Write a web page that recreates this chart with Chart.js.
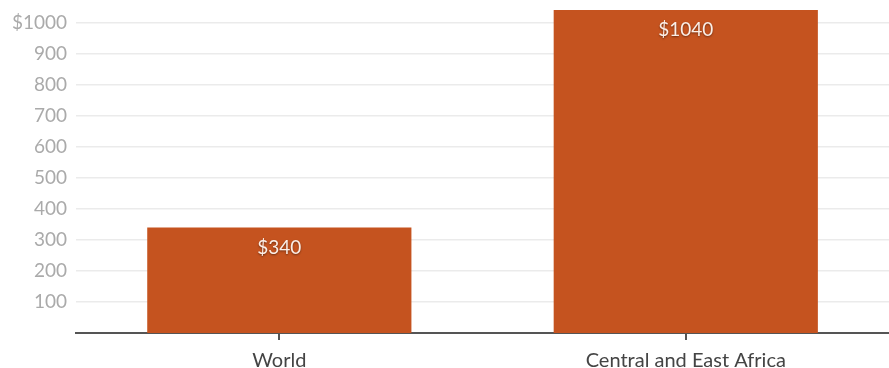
<!DOCTYPE html>
<html>
<head>
<meta charset="utf-8">
<script src="https://cdn.jsdelivr.net/npm/chart.js@4/dist/chart.umd.min.js"></script>
<style>
	html, body { margin: 0; padding: 0; background: #fff; }
	.chart-container { position: relative; width: 889px; height: 368px; }
</style>
</head>
<body>
<div class="chart-container">
	<canvas id="barChart"></canvas>
</div>
<script>
var categories = ['World', 'Central and East Africa'];
var values = [340, 1040];
var valueLabels = ['$340', '$1040'];
var yTicks = [100, 200, 300, 400, 500, 600, 700, 800, 900, 1000];

// white labels just under the top of each bar
var barLabels = {
	id: 'barLabels',
	afterDatasetsDraw: function (chart) {
		var ctx = chart.ctx;
		var meta = chart.getDatasetMeta(0);
		ctx.save();
		ctx.font = '19px Lato';
		ctx.fillStyle = '#fbeee6';
		ctx.textAlign = 'center';
		ctx.textBaseline = 'middle';
		ctx.shadowColor = 'rgba(0,0,0,0.45)';
		ctx.shadowBlur = 2;
		ctx.shadowOffsetY = 1;
		meta.data.forEach(function (bar, i) {
			ctx.fillText(valueLabels[i], bar.x, bar.y + 20);
		});
		ctx.restore();
	},
};

var ctx = document.getElementById('barChart');
var myBarChart = new Chart(ctx, {
	type: 'bar',
	data: {
		labels: categories,
		datasets: [
			{
				data: values,
				backgroundColor: '#c5531f',
				barPercentage: 0.65,
				categoryPercentage: 1,
			},
		],
	},
	options: {
		responsive: true,
		maintainAspectRatio: false,
		animation: false,
		layout: { padding: { left: 3, right: 0, top: 0, bottom: -14 } },
		plugins: {
			legend: { display: false },
			tooltip: { enabled: false },
		},
		scales: {
			x: {
				border: { display: true, color: '#555', width: 2 },
				grid: {
					offset: false,
					drawOnChartArea: false,
					drawTicks: true,
					tickLength: 7,
					color: '#555',
					lineWidth: 2,
				},
				ticks: {
					color: '#444',
					font: { family: 'Lato', size: 20 },
					padding: 9,
				},
			},
			y: {
				min: 0,
				max: 1042,
				border: { display: false },
				grid: {
					color: '#ebebeb',
					lineWidth: 1.5,
					drawTicks: false,
				},
				afterBuildTicks: function (scale) {
					scale.ticks = yTicks.map(function (v) {
						return { value: v };
					});
				},
				ticks: {
					autoSkip: false,
					color: '#aaa',
					// tiny line height so the top label does not push the plot down
					font: { family: 'Lato', size: 19, lineHeight: 0.05 },
					padding: 9,
					callback: function (value) {
						return value === 1000 ? '$1000' : value;
					},
				},
			},
		},
	},
	plugins: [barLabels],
});
</script>
</body>
</html>
